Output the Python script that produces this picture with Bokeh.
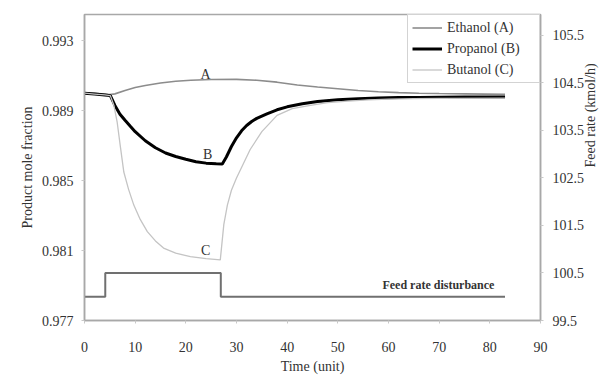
import math
from bokeh.plotting import figure
from bokeh.models import Range1d, LinearAxis, FixedTicker, Label, Legend, LegendItem
from bokeh.embed import file_html
from bokeh.resources import INLINE

# ---- data ----
t_a = [0, 2, 4, 5, 6, 8, 10, 12, 15, 18, 21, 25, 30, 34, 38, 42, 46, 50, 54, 58, 62, 66, 70, 75, 83]
ethanol = [0.99000, 0.99000, 0.98995, 0.98992, 0.98996, 0.99015, 0.99032, 0.99044, 0.99058, 0.99068,
           0.99074, 0.99078, 0.99079, 0.99074, 0.99063, 0.99047, 0.99035, 0.99025, 0.99015, 0.99008,
           0.99003, 0.99000, 0.98998, 0.98996, 0.98993]

t_b = [0, 2, 4, 5.1, 6, 7, 8, 9, 10, 12, 14, 16, 18, 20, 22, 24, 26, 27.2,
       28, 29, 30, 31, 32, 33, 34, 36, 38, 40, 43, 46, 50, 54, 58, 62, 66, 70, 75, 83]
propanol = [0.99000, 0.98995, 0.98990, 0.98986, 0.98930, 0.98880, 0.98845, 0.98812, 0.98780, 0.98728,
            0.98688, 0.98658, 0.98638, 0.98622, 0.98608, 0.98600, 0.98596, 0.98595,
            0.98635, 0.98695, 0.98745, 0.98785, 0.98815, 0.98838, 0.98856, 0.98882, 0.98905, 0.98922,
            0.98940, 0.98952, 0.98962, 0.98968, 0.98972, 0.98975, 0.98976, 0.98977, 0.98978, 0.98978]

t_c = [0, 2, 4, 5.1, 5.8, 6.45, 7.1, 7.76, 8.7, 9.73, 11, 12.4, 14, 15.6, 18, 20.9, 24, 26.8,
       27.5, 28.2, 29, 30, 32.7, 35, 38, 41, 44.6, 48, 52, 56, 60, 65, 70, 83]
butanol = [0.99000, 0.98995, 0.98990, 0.98986, 0.98930, 0.98834, 0.98690, 0.98549, 0.98450, 0.98360,
           0.98278, 0.98208, 0.98155, 0.98114, 0.98085, 0.98065, 0.98054, 0.98047,
           0.98250, 0.98360, 0.98445, 0.98515, 0.98678, 0.98780, 0.98873, 0.98912, 0.98930, 0.98946,
           0.98955, 0.98962, 0.98966, 0.98969, 0.98970, 0.98972]

t_feed = [0, 4.1, 26.9, 83]
feed_rate = [100.0, 100.5, 100.0, 100.0]

x_ticks = [0, 10, 20, 30, 40, 50, 60, 70, 80, 90]
left_ticks = [0.977, 0.981, 0.985, 0.989, 0.993]
right_ticks = [99.5, 100.5, 101.5, 102.5, 103.5, 104.5, 105.5]

FONT = "Liberation Serif"
GREY_AX = "#a8a8a8"
TXT = "#333333"

p = figure(width=610, height=376, output_backend="svg", toolbar_location=None,
           x_range=Range1d(0, 90), y_range=Range1d(0.977, 0.9945),
           min_border_left=84, min_border_right=70, min_border_top=14, min_border_bottom=56)
p.extra_y_ranges = {"feed": Range1d(99.5, 105.94)}

p.grid.visible = False
p.outline_line_color = GREY_AX
p.outline_line_width = 1.5
p.background_fill_color = "white"
p.border_fill_color = "white"

p.xaxis.ticker = FixedTicker(ticks=x_ticks)
p.yaxis.ticker = FixedTicker(ticks=left_ticks)
p.xaxis.axis_label = "Time (unit)"
p.yaxis.axis_label = "Product mole fraction"

right_axis = LinearAxis(y_range_name="feed", ticker=FixedTicker(ticks=right_ticks),
                        axis_label="Feed rate (kmol/h)")
right_axis.axis_label_orientation = math.pi / 2
p.add_layout(right_axis, "right")

for ax in [p.xaxis[0], p.yaxis[0], right_axis]:
    ax.axis_line_color = GREY_AX
    ax.axis_line_width = 1.5
    ax.major_tick_line_color = "#c8c8c8"
    ax.major_tick_in = 0
    ax.major_tick_out = 3
    ax.minor_tick_line_color = None
    ax.major_label_text_font = FONT
    ax.major_label_text_font_size = "14px"
    ax.major_label_text_color = TXT
    ax.axis_label_text_font = FONT
    ax.axis_label_text_font_size = "14px"
    ax.axis_label_text_font_style = "normal"
    ax.axis_label_text_color = TXT

p.xaxis.major_label_standoff = 18
p.xaxis.axis_label_standoff = 4
p.yaxis.major_label_standoff = 8
p.yaxis.axis_label_standoff = 4
right_axis.major_label_standoff = 9
right_axis.axis_label_standoff = 3

# series
r_a = p.line(t_a, ethanol, line_color="#8c8c8c", line_width=1.6)
r_b = p.line(t_b, propanol, line_color="#000000", line_width=3)
r_c = p.line(t_c, butanol, line_color="#c4c4c4", line_width=1.3)
p.step(t_feed, feed_rate, mode="after", y_range_name="feed", line_color="#707070", line_width=2)

# curve labels
for txt, x, y in [("A", 23.9, 0.99106), ("B", 24.3, 0.98652), ("C", 23.9, 0.98099)]:
    p.add_layout(Label(x=x, y=y, text=txt, text_font=FONT, text_font_size="14px",
                       text_color=TXT, text_align="center", text_baseline="middle"))

p.add_layout(Label(x=58.8, y=100.24, y_range_name="feed", text="Feed rate disturbance",
                   text_font=FONT, text_font_size="12px", text_font_style="bold",
                   text_color=TXT, text_align="left", text_baseline="middle"))

legend = Legend(items=[LegendItem(label="Ethanol (A)", renderers=[r_a]),
                       LegendItem(label="Propanol (B)", renderers=[r_b]),
                       LegendItem(label="Butanol (C)", renderers=[r_c])],
                location="top_right")
legend.label_text_font = FONT
legend.label_text_font_size = "14px"
legend.label_text_color = TXT
legend.border_line_color = GREY_AX
legend.border_line_width = 1
legend.background_fill_color = "white"
legend.background_fill_alpha = 1.0
legend.margin = 0
legend.padding = 4
legend.spacing = 4
legend.glyph_width = 30
legend.glyph_height = 17
legend.label_standoff = 5
legend.label_height = 17
legend.label_width = 88
p.add_layout(legend)

open("out.html", "w").write(file_html(p, INLINE))
